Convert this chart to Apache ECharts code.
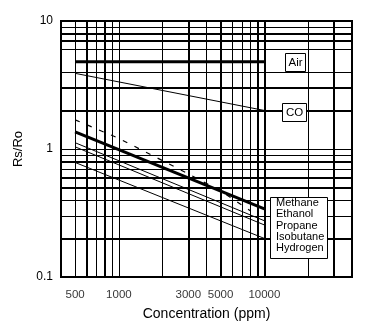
<!DOCTYPE html>
<html>
<head>
<meta charset="utf-8">
<script src="https://cdn.jsdelivr.net/npm/echarts@6/dist/echarts.min.js"></script>
<style>
html,body{margin:0;padding:0;background:#fff;}
#chart{width:374px;height:326px;}
</style>
</head>
<body>
<div id="chart"></div>
<script>
// ---- data ----
const xTickLabels = [500, 1000, 3000, 5000, 10000];
const yTickLabels = [0.1, 1, 10];

const airData      = [[500, 4.8], [10000, 4.8]];
const coData       = [[500, 3.9], [10000, 2.0]];
const methaneData  = [[500, 1.36], [10000, 0.34]];
const ethanolData  = [[500, 1.69], [1000, 1.21], [3000, 0.64], [5000, 0.47], [8000, 0.33]];
const propaneData  = [[500, 1.12], [10000, 0.275]];
const isobutaneData= [[500, 1.04], [10000, 0.255]];
const hydrogenData = [[500, 0.785], [10000, 0.20]];

const legendNames = ['Methane', 'Ethanol', 'Propane', 'Isobutane', 'Hydrogen'];

// grid lines of the log paper
const xGridMajor = [600, 800, 3000, 5000, 9000, 10000, 30000];
const xGridMinor = [500, 700, 900, 1000, 2000, 4000, 6000, 7000, 8000, 20000];
const yGridMajor = [0.2, 0.5, 0.6, 0.8, 2, 3, 7, 8];
const yGridMinor = [0.3, 0.4, 0.7, 0.9, 1, 4, 6, 9];

// ---- chart ----
const FONT = '"Liberation Sans", Arial, Helvetica, sans-serif';
const chart = echarts.init(document.getElementById('chart'), null, {renderer: 'canvas'});

const gridLines = []
  .concat(xGridMajor.map(v => ({xAxis: v, lineStyle: {width: 2}})))
  .concat(xGridMinor.map(v => ({xAxis: v, lineStyle: {width: 1}})))
  .concat(yGridMajor.map(v => ({yAxis: v, lineStyle: {width: 2}})))
  .concat(yGridMinor.map(v => ({yAxis: v, lineStyle: {width: 1}})));

function lineSeries(name, data, width, type) {
  return {
    name: name, type: 'line', data: data, symbol: 'none', z: 5,
    lineStyle: {color: '#000', width: width, type: type || 'solid'},
    silent: true
  };
}

const option = {
  animation: false,
  backgroundColor: '#fff',
  grid: {left: 61, right: 22, top: 21, bottom: 49, show: true,
         borderColor: '#000', borderWidth: 2, backgroundColor: '#fff'},
  xAxis: {
    type: 'log', logBase: 10, min: 400, max: 40000,
    axisLine: {show: false}, axisTick: {show: false}, splitLine: {show: false},
    axisLabel: {show: false},
    name: 'Concentration (ppm)', nameLocation: 'middle', nameGap: 30,
    nameTextStyle: {fontSize: 14, color: '#000', fontFamily: FONT}
  },
  yAxis: {
    type: 'log', logBase: 10, min: 0.1, max: 10,
    axisLine: {show: false}, axisTick: {show: false}, splitLine: {show: false},
    axisLabel: {
      fontSize: 12, color: '#000', fontFamily: FONT, margin: 8,
      formatter: function (v) {
        let best = yTickLabels[0];
        yTickLabels.forEach(t => { if (Math.abs(Math.log10(t) - Math.log10(v)) < Math.abs(Math.log10(best) - Math.log10(v))) best = t; });
        return String(best);
      }
    },
    name: 'Rs/Ro', nameLocation: 'middle', nameGap: 36,
    nameTextStyle: {fontSize: 13, color: '#000', fontFamily: FONT}
  },
  series: [
    {
      type: 'line', data: [], z: 1, silent: true,
      markLine: {
        silent: true, symbol: 'none', animation: false,
        label: {show: false},
        lineStyle: {color: '#000', type: 'solid'},
        emphasis: {disabled: true},
        data: gridLines
      }
    },
    lineSeries('Air', airData, 3),
    lineSeries('CO', coData, 1),
    lineSeries(legendNames[0], methaneData, 3),
    lineSeries(legendNames[1], ethanolData, 1.2, [5, 8]),
    lineSeries(legendNames[2], propaneData, 1),
    lineSeries(legendNames[3], isobutaneData, 1),
    lineSeries(legendNames[4], hydrogenData, 1),
    {
      type: 'scatter', silent: true, clip: false, z: 6,
      data: xTickLabels.map(v => [v, 0.1]),
      symbolSize: 2, itemStyle: {color: 'rgba(0,0,0,0)'},
      label: {show: true, position: 'bottom', distance: 11,
              fontSize: 11.5, color: '#000', fontFamily: FONT,
              formatter: p => String(p.value[0])}
    }
  ],
  graphic: [
    {type: 'rect', z: 100, shape: {x: 285.5, y: 53.5, width: 20, height: 18},
     style: {fill: '#fff', stroke: '#000', lineWidth: 1}},
    {type: 'text', z: 101, x: 295.5, y: 63,
     style: {text: 'Air', fontSize: 11.5, fontFamily: FONT, fill: '#000', align: 'center', verticalAlign: 'middle'}},
    {type: 'rect', z: 100, shape: {x: 282.5, y: 103.5, width: 24, height: 18},
     style: {fill: '#fff', stroke: '#000', lineWidth: 1}},
    {type: 'text', z: 101, x: 294.5, y: 113,
     style: {text: 'CO', fontSize: 11.5, fontFamily: FONT, fill: '#000', align: 'center', verticalAlign: 'middle'}},
    {type: 'rect', z: 100, shape: {x: 270.5, y: 197.5, width: 57, height: 61},
     style: {fill: '#fff', stroke: '#000', lineWidth: 1}},
    {type: 'text', z: 101, x: 276, y: 197.5,
     style: {text: legendNames.join('\n'), fontSize: 11, lineHeight: 11.25, fontFamily: FONT,
             fill: '#000', align: 'left', verticalAlign: 'top'}}
  ]
};
chart.setOption(option);
</script>
</body>
</html>
